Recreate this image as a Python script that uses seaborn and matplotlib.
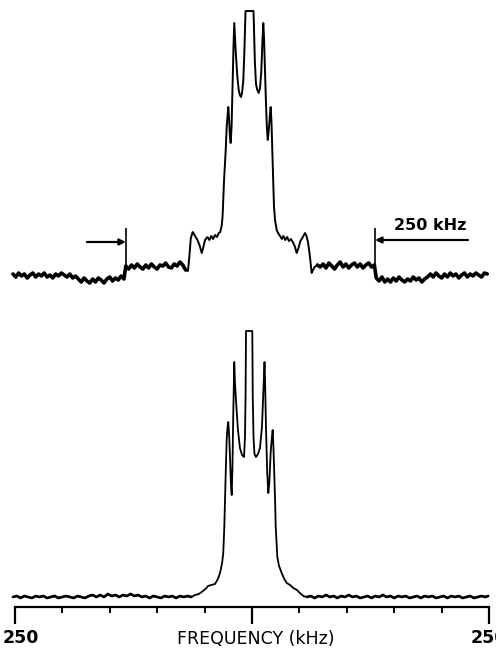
import matplotlib
matplotlib.use("Agg")
import matplotlib.pyplot as plt
import seaborn as sns
from matplotlib.transforms import ScaledTranslation

# ---------------- data (frequency in kHz, intensity in arbitrary units) ----------------
# Top spectrum
top_left_base_f = [-252, -249, -246, -243, -240, -237, -234, -231, -228, -225, -222, -219, -216,
                   -213, -210, -207, -204, -201, -198, -195, -192, -189, -186, -183, -180, -177,
                   -174, -171, -168, -165, -162, -159, -156, -153, -150, -147, -144, -141, -138,
                   -135, -133, -130, -127, -124, -121, -118, -115, -112, -109, -106, -103, -100,
                   -97, -94, -91, -88, -85, -82, -79, -76, -73, -70]
top_left_base_i = [2, -1, 3, 0, 2, -2, 1, 3, -1, 2, 0, 3, -1,
                   1, -2, 2, 0, 3, 1, -1, 2, -2, 0, -3, -6, -2,
                   -5, -7, -3, -6, -2, -4, -7, -3, -1, -5, -2, -4, 0,
                   -3, 10, 7, 11, 8, 12, 9, 7, 11, 8, 12, 9, 7,
                   11, 10, 13, 9, 8, 12, 10, 14, 11, 6]
top_core_f = [-67.5, -66, -64.5, -62.5, -60, -57.5, -55, -53, -51.5, -49.5, -47, -45, -43, -41,
              -39, -37, -35, -33.5, -32, -31, -30.3, -29.5, -28.5, -27.7, -26.7, -25.8, -25.0,
              -24.2, -23.3, -22.5, -21.5, -20.5, -19.5, -18.7, -18, -17, -15.5, -14, -12.8,
              -11.6, -10.5, -9.2, -8.2, -7.3, -6.8, 1.6, 2.2, 3, 4.2, 5.6, 7, 8.5, 9.8, 11,
              11.9, 12.6, 13.5, 14.5, 15.6, 16.6, 17.6, 18.8, 19.7, 20.5, 21.3, 22.2, 23.2,
              24.3, 26, 27.5, 29.5, 31.5, 33, 35, 37, 39, 41, 43, 45, 47.1, 49, 51, 53, 55.9,
              57.5, 59, 61, 62.9, 64.3, 66]
top_core_i = [5, 20, 38, 44, 40, 36, 30, 23, 28, 36, 39, 36, 40, 37,
              41, 39, 43, 44, 50, 60, 76, 95, 112, 126, 149, 160, 169,
              158, 140, 133, 150, 190, 230, 253, 240, 222, 200, 186, 181,
              179, 183, 195, 220, 250, 265, 265, 245, 215, 192, 186, 183, 188, 205, 235,
              253, 240, 210, 180, 150, 136, 145, 160, 169, 155, 128, 100, 69,
              56, 46, 43, 40, 37, 40, 36, 39, 35, 37, 34, 30, 23, 28, 35, 38, 43,
              40, 34, 20, 3, 6, 9]
top_right_base_f = [69, 72, 75, 78, 81, 84, 87, 90, 93, 96, 99, 102, 105, 108, 111, 114, 117,
                    120, 123, 126, 129, 131, 134, 137, 140, 143, 146, 149, 152, 155, 158, 161,
                    164, 167, 170, 173, 176, 179, 182, 185, 188, 191, 194, 197, 200, 203, 206,
                    209, 212, 215, 218, 221, 224, 227, 230, 233, 236, 239, 242, 245, 248]
top_right_base_i = [11, 9, 12, 8, 13, 10, 7, 11, 14, 9, 12, 8, 11, 13, 9, 12, 8,
                    11, 13, 9, 11, -2, -5, -1, -6, -3, -6, -2, -5, -1, -4, -6,
                    -3, -5, -1, -4, -2, -6, -3, -1, 2, -1, 3, 0, -2, 2, -1,
                    3, 0, 2, -2, 1, 3, -1, 2, 0, 3, 1, -1, 3, 2]

# Bottom spectrum
bot_left_base_f = [-252, -248, -244, -240, -236, -232, -228, -224, -220, -216, -212, -208, -204,
                   -200, -196, -192, -188, -184, -180, -176, -172, -168, -164, -160, -156, -152,
                   -148, -144, -140, -136, -132, -128, -124, -120, -116, -112, -108, -104, -100,
                   -96, -92, -88, -84, -80, -76, -72, -68, -64]
bot_left_base_i = [0, 1, -1, 1, 0, -1, 1, 0, 1, -1, 0, 1, -1,
                   0, 1, 0, -1, 1, 0, -1, 1, 2, 0, 2, 0, 3,
                   1, 2, 0, 2, 1, 3, 1, 2, 0, 1, -1, 1, 0,
                   -1, 1, 0, 1, -1, 1, 0, 1, 0]
bot_core_f = [-60, -56, -51.7, -48, -46.4, -43, -39, -36, -33.7, -31.5, -30.3, -29.2, -28.4,
              -27.7, -26.7, -25.8, -25.0, -24, -23, -22.2, -21.4, -20.6, -19.8, -18.7, -18,
              -16.9, -14.8, -12.7, -10.5, -8.4, -7.4, -6.8, -6.3, 0.3, 0.8, 1.6, 2.6, 4.2, 6.3,
              8.4, 10.5, 12.1, 13.2, 13.9, 14.8, 16, 17.2, 18.3, 19.7, 21, 21.8, 22.6, 23.5,
              24.3, 25.0, 26.7, 28.5, 31.3, 34, 36.6, 40.1, 43.5, 47.4, 50.5, 54.1]
bot_core_i = [2, 3, 6, 9, 11, 12, 13, 18, 24, 34, 44, 70, 100,
              124, 157, 170, 175, 160, 135, 112, 102, 130, 180, 235, 215,
              197, 167, 149, 142, 140, 160, 200, 266, 266, 200, 160, 143, 140, 143,
              149, 170, 207, 235, 210, 167, 125, 104, 115, 145, 160, 167, 150, 124,
              98, 70, 40, 31, 24, 18, 14, 12, 9, 7, 4, 1]
bot_right_base_f = [58, 62, 66, 70, 74, 78, 82, 86, 90, 94, 98, 102, 106, 110, 114, 118, 122,
                    126, 130, 134, 138, 142, 146, 150, 154, 158, 162, 166, 170, 174, 178, 182,
                    186, 190, 194, 198, 202, 206, 210, 214, 218, 222, 226, 230, 234, 238, 242,
                    246, 249]
bot_right_base_i = [0, 1, -1, 1, 0, 2, 0, 1, -1, 1, 0, 2, 0, 1, -1, 0, 1,
                    -1, 1, 0, 2, 0, 1, -1, 1, 0, 1, -1, 0, 1, -1, 1,
                    0, 1, -1, 0, 1, -1, 1, 0, 1, -1, 0, 1, -1, 0, 1,
                    0, 1]

# Annotations (kHz / intensity)
marker_freqs = [-133.0, 129.7]
marker_low = [9, 9]
marker_high = [48, 48]
arrow_tails = [-174.0, 227.7]
arrow_levels = [34, 36]
width_label = "250 kHz"
width_label_pos = (187.6, 50)

# Axis
major_ticks = [-250, 0, 250]
major_labels = ["250", "", "250"]
minor_ticks = [-200, -150, -100, -50, 50, 100, 150, 200]
axis_title = "FREQUENCY (kHz)"

top_f = top_left_base_f + top_core_f + top_right_base_f
top_i = top_left_base_i + top_core_i + top_right_base_i
bot_f = bot_left_base_f + bot_core_f + bot_right_base_f
bot_i = bot_left_base_i + bot_core_i + bot_right_base_i

# ---------------- layout ----------------
sns.set_style("white")
plt.rcParams['font.family'] = ['DejaVu Sans']
plt.rcParams['text.color'] = 'black'

W, H = 496, 650
fig = plt.figure(figsize=(W / 100, H / 100), dpi=100)
px_per_khz = 0.9486
center_px = 252
xlim = (-center_px / px_per_khz, (W - center_px) / px_per_khz)

ax_top = fig.add_axes([0, 1 - 300 / H, 1, 300 / H])
ax_bot = fig.add_axes([0, 1 - 607 / H, 1, 287 / H])
for a in (ax_top, ax_bot):
    a.set_xlim(*xlim)
    a.set_facecolor('none')
ax_top.set_ylim(-24, 276)
ax_bot.set_ylim(-10, 277)

# full traces
sns.lineplot(x=top_f, y=top_i, ax=ax_top, color='black', lw=1.4, sort=False, estimator=None)
sns.lineplot(x=bot_f, y=bot_i, ax=ax_bot, color='black', lw=1.3, sort=False, estimator=None)
# noisy baselines drawn heavier, as in the scanned trace
for fx, iy in ((top_left_base_f, top_left_base_i), (top_right_base_f, top_right_base_i)):
    sns.lineplot(x=fx, y=iy, ax=ax_top, color='black', lw=2.6, sort=False, estimator=None)
for fx, iy in ((bot_left_base_f, bot_left_base_i), (bot_right_base_f, bot_right_base_i)):
    sns.lineplot(x=fx, y=iy, ax=ax_bot, color='black', lw=1.9, sort=False, estimator=None)

# top axes: no frame
ax_top.axis('off')

# markers and arrows
ax_top.vlines(marker_freqs, marker_low, marker_high, color='black', lw=1.2)
for mf, tail, lev in zip(marker_freqs, arrow_tails, arrow_levels):
    ax_top.annotate('', xy=(mf, lev), xytext=(tail, lev),
                    arrowprops=dict(arrowstyle='-|>', color='black', lw=1.6,
                                    mutation_scale=9, shrinkA=0, shrinkB=0))
ax_top.text(width_label_pos[0], width_label_pos[1], width_label, ha='center', va='center',
            fontsize=11.5, fontweight='bold', color='black')

# bottom axis styling
for s in ['top', 'left', 'right']:
    ax_bot.spines[s].set_visible(False)
ax_bot.spines['bottom'].set_bounds(-250, 250)
ax_bot.spines['bottom'].set_linewidth(1.6)
ax_bot.spines['bottom'].set_color('black')
ax_bot.set_yticks([])
ax_bot.set_xticks(major_ticks)
ax_bot.set_xticklabels(major_labels, fontsize=12.5, fontweight='bold', color='black')
ax_bot.set_xticks(minor_ticks, minor=True)
ax_bot.tick_params(axis='x', which='major', direction='out', length=12, width=1.6,
                   pad=4, colors='black', bottom=True)
ax_bot.tick_params(axis='x', which='minor', direction='out', length=4.3, width=1.4,
                   colors='black', bottom=True)
ax_bot.set_xlabel('')
ax_bot.set_ylabel('')
labels = ax_bot.get_xticklabels()
labels[0].set_transform(labels[0].get_transform() + ScaledTranslation(6 / 100, 0, fig.dpi_scale_trans))

fig.text(256 / W, 1 - 639 / H, axis_title, ha='center', va='center', fontsize=12.5, color='black')

fig.savefig('out.png', dpi=100)
